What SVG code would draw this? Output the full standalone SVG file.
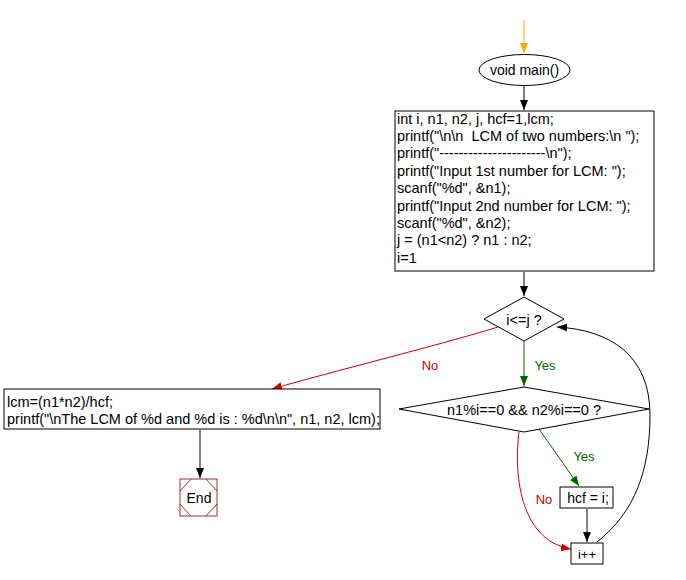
<svg xmlns="http://www.w3.org/2000/svg" width="686" height="580" viewBox="0 0 686 580">
<style>
text{font-family:"Liberation Sans",Arial,sans-serif;font-size:13px;fill:#000;white-space:pre}
.c{text-anchor:middle}
.code{font-size:14.5px}
.shape{fill:#fff;stroke:#000;stroke-width:1}
.edge{fill:none;stroke:#000;stroke-width:1}
.red{stroke:#cc0000}
.green{stroke:#006400}
.lr{fill:#cc0000}
.lg{fill:#006400}
</style>
<defs>
<marker id="ab" markerUnits="userSpaceOnUse" markerWidth="12" markerHeight="10" refX="10" refY="4" orient="auto"><polygon points="0,0 10,4 0,8" fill="#000"/></marker>
<marker id="ar" markerUnits="userSpaceOnUse" markerWidth="12" markerHeight="10" refX="10" refY="4" orient="auto"><polygon points="0,0 10,4 0,8" fill="#cc0000"/></marker>
<marker id="ag" markerUnits="userSpaceOnUse" markerWidth="12" markerHeight="10" refX="10" refY="4" orient="auto"><polygon points="0,0 10,4 0,8" fill="#006400"/></marker>
<marker id="ao" markerUnits="userSpaceOnUse" markerWidth="12" markerHeight="10" refX="10" refY="4" orient="auto"><polygon points="0,0 10,4 0,8" fill="#ffa500"/></marker>
</defs>
<rect width="686" height="580" fill="#fff"/>
<g id="connectors">
<path class="edge" style="stroke:#ffa500" d="M524,20 L524,53" marker-end="url(#ao)"/>
<path class="edge" d="M524,86 L524,110" marker-end="url(#ab)"/>
<path class="edge" d="M524,272 L524,296" marker-end="url(#ab)"/>
<path class="edge green" d="M524,341 L524,386" marker-end="url(#ag)"/>
<path class="edge red" d="M498,327 C440,345 330,372 272,389" marker-end="url(#ar)"/>
<path class="edge" d="M200,430 L200,478" marker-end="url(#ab)"/>
<path class="edge green" d="M539,429 L579,486" marker-end="url(#ag)"/>
<path class="edge red" d="M519,432 C514,470 518,540 571,549" marker-end="url(#ar)"/>
<path class="edge" d="M587,509 L587,542" marker-end="url(#ab)"/>
<path class="edge" d="M597,542 C635,512 650,470 650,415 C650,355 610,330 557,327" marker-end="url(#ab)"/>
<text class="lr" x="430" y="370" text-anchor="middle">No</text>
<text class="lg" x="545" y="370" text-anchor="middle">Yes</text>
<text class="lg" x="584" y="461" text-anchor="middle">Yes</text>
<text class="lr" x="544" y="504" text-anchor="middle">No</text>
</g>
<g id="start">
<ellipse class="shape" cx="524.5" cy="70" rx="45.5" ry="15.5"/>
<text class="c" x="524.5" y="75" style="font-size:14px">void main()</text>
</g>
<g id="init">
<rect class="shape" x="395" y="111" width="259" height="160"/>
<text class="code" x="397" y="123.5">int i, n1, n2, j, hcf=1,lcm;</text>
<text class="code" x="397" y="140.9">printf("\n\n  LCM of two numbers:\n ");</text>
<text class="code" x="397" y="158.3">printf("----------------------\n");</text>
<text class="code" x="397" y="175.7">printf("Input 1st number for LCM: ");</text>
<text class="code" x="397" y="193.1">scanf("%d", &amp;n1);</text>
<text class="code" x="397" y="210.5">printf("Input 2nd number for LCM: ");</text>
<text class="code" x="397" y="227.9">scanf("%d", &amp;n2);</text>
<text class="code" x="397" y="245.3">j = (n1&lt;n2) ? n1 : n2;</text>
<text class="code" x="397" y="262.7">i=1</text>
</g>
<g id="cond1">
<polygon class="shape" points="524,297 564,319 524,341 484,319"/>
<text class="c code" x="524" y="325">i&lt;=j ?</text>
</g>
<g id="cond2">
<polygon class="shape" points="524,387 649,409 524,432 399,409"/>
<text class="c code" x="524" y="415">n1%i==0 &amp;&amp; n2%i==0 ?</text>
</g>
<g id="result">
<rect class="shape" x="4" y="389" width="376" height="40"/>
<text class="code" x="7" y="406.5">lcm=(n1*n2)/hcf;</text>
<text class="code" x="7" y="424">printf("\nThe LCM of %d and %d is : %d\n\n", n1, n2, lcm);</text>
</g>
<g id="end">
<rect x="180" y="479" width="37" height="37" fill="#fff" stroke="#a52a2a"/>
<path d="M191,479 L180,491 M180,504 L191,516 M206,479 L217,491 M217,504 L206,516" fill="none" stroke="#a52a2a"/>
<text class="c" x="199" y="503" style="font-size:14px">End</text>
</g>
<g id="hcf">
<rect class="shape" x="560" y="487" width="53" height="21"/>
<text class="c" x="588" y="503" style="font-size:14px">hcf = i;</text>
</g>
<g id="inc">
<rect class="shape" x="571" y="543" width="32" height="21"/>
<text class="c" x="587" y="559">i++</text>
</g>
</svg>
